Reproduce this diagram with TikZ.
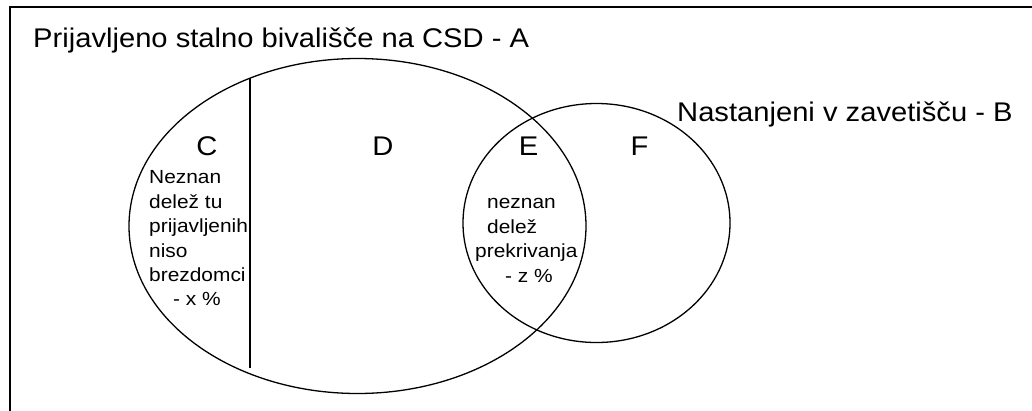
\documentclass[tikz,border=0pt]{standalone}
\usepackage{fontspec}
\setmainfont{Liberation Sans}
\newfontfamily\bigf[FakeStretch=1.08]{Liberation Sans}
\newfontfamily\smallf[FakeStretch=1.1]{Liberation Sans}
\usetikzlibrary{shapes.geometric}
\tikzset{
  setring/.style={ellipse, draw, line width=1.3pt, inner sep=0pt, outer sep=0pt},
  bigtxt/.style={inner sep=0pt, anchor=base west, font=\bigf\fontsize{27}{30}\selectfont},
  lettertxt/.style={inner sep=0pt, anchor=base, font=\bigf\fontsize{27}{30}\selectfont},
  smalltxt/.style={inner sep=0pt, anchor=base west, font=\smallf\fontsize{19}{22}\selectfont},
  divider/.style={line width=1.3pt},
  framebox/.style={line width=1.8pt}
}
\begin{document}
\begin{tikzpicture}[x=1pt,y=-1pt]
\useasboundingbox (0,0) rectangle (1032,410);
\fill[white] (0,0) rectangle (1032,410);
\begin{scope}
\clip (0,0) rectangle (1032,410);
\coordinate (fb) at (10,420);
\coordinate (fc) at (10,7);
\coordinate (fr) at (1045,7);
\draw[framebox] (fb) -- (fc) -- (fr);
\end{scope}
% ellipses
\node[setring, minimum width=457pt, minimum height=335pt] (A) at (357.5,226) {};
\node[setring, minimum width=267pt, minimum height=239pt] (B) at (596.5,223) {};
% divider
\coordinate (dt) at (250,78);
\coordinate (db) at (250,368);
\draw[divider] (dt) -- (db);
% titles
\node[bigtxt] (tA) at (33,47) {Prijavljeno stalno bivališče na CSD - A};
\node[bigtxt] (tB) at (677,121) {Nastanjeni v zavetišču - B};
% region letters
\node[lettertxt] (lC) at (207,155) {C};
\node[lettertxt] (lD) at (383,155) {D};
\node[lettertxt] (lE) at (528.5,155) {E};
\node[lettertxt] (lF) at (639.5,155) {F};
% C text
\node[smalltxt] (c1) at (149,183) {Neznan};
\node[smalltxt] (c2) at (149,208) {delež tu};
\node[smalltxt] (c3) at (149,232) {prijavljenih};
\node[smalltxt] (c4) at (149,257) {niso};
\node[smalltxt] (c5) at (149,281) {brezdomci};
\node[smalltxt] (c6) at (173,305) {- x \%};
% E text
\node[smalltxt] (e1) at (487,208) {neznan};
\node[smalltxt] (e2) at (487,233) {delež};
\node[smalltxt] (e3) at (475,257) {prekrivanja};
\node[smalltxt] (e4) at (505,282) {- z \%};
\end{tikzpicture}
\end{document}
